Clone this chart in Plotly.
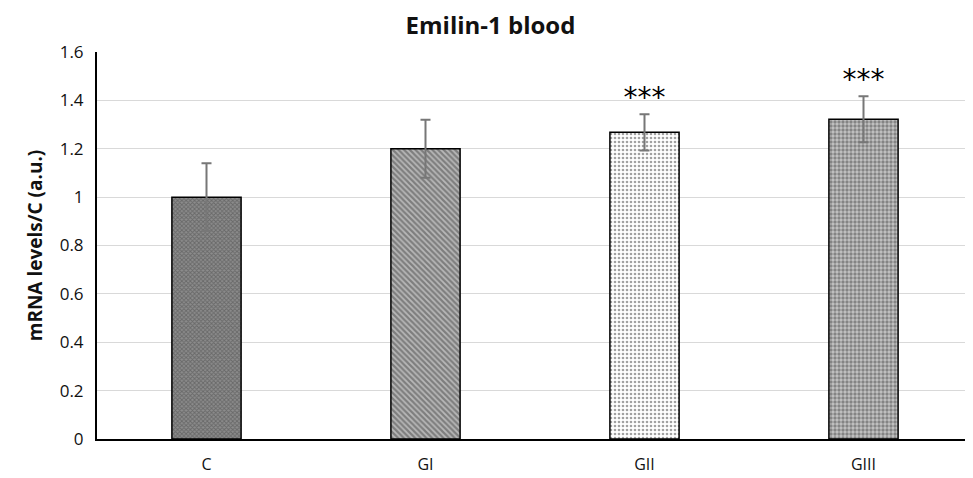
import plotly.graph_objects as go

categories = ["C", "GI", "GII", "GIII"]
values = [1.0, 1.2, 1.268, 1.322]
errors = [0.14, 0.12, 0.075, 0.095]
stars = ["", "", "***", "***"]
shapes = ["x", "\\", ".", "."]
fg = ["#1e1e1e", "#1e1e1e", "#7a7a7a", "#1e1e1e"]
bg = ["#8c8c8c", "#b8b8b8", "#ffffff", "#c4c4c4"]
psize = [3, 4, 4, 4]
psol = [0.5, 0.55, 0.35, 0.55]

fig = go.Figure()
fig.add_trace(go.Bar(
    x=categories, y=values, width=0.316,
    marker=dict(
        color=bg,
        line=dict(color="black", width=1.5),
        pattern=dict(shape=shapes, fgcolor=fg, bgcolor=bg, size=psize, solidity=psol, fillmode="overlay"),
    ),
    error_y=dict(type="data", array=errors, visible=True, color="#777777", thickness=2, width=5),
    showlegend=False,
))
fig.add_trace(go.Scatter(
    x=categories, y=[v + e for v, e in zip(values, errors)], mode="text", text=stars,
    textposition="top center", textfont=dict(size=28, color="black", family="DejaVu Sans"),
    showlegend=False, cliponaxis=False,
))

fig.update_layout(
    width=965, height=470,
    margin=dict(l=89, r=0, t=44, b=39),
    paper_bgcolor="white", plot_bgcolor="white",
    font=dict(family="Open Sans", color="#111111"),
    title=dict(text="<b>Emilin-1 blood</b>", x=0.5, xanchor="center", y=0.962, yanchor="middle",
               font=dict(size=24, color="#111111")),
    xaxis=dict(showline=True, linecolor="black", linewidth=2, tickfont=dict(size=16),
               ticks="", mirror=False, automargin=False, ticklabelstandoff=10),
    yaxis=dict(range=[0, 1.6], dtick=0.2, showline=True, linecolor="black", linewidth=2,
               gridcolor="#d9d9d9", gridwidth=1, tickfont=dict(size=17), ticks="",
               tickformat="~g", zeroline=False, automargin=False, ticklabelstandoff=8,
               title=dict(text="<b>mRNA levels/C (a.u.)</b>", font=dict(size=19), standoff=12)),
    bargap=0.684,
)
fig.write_html("out.html")
